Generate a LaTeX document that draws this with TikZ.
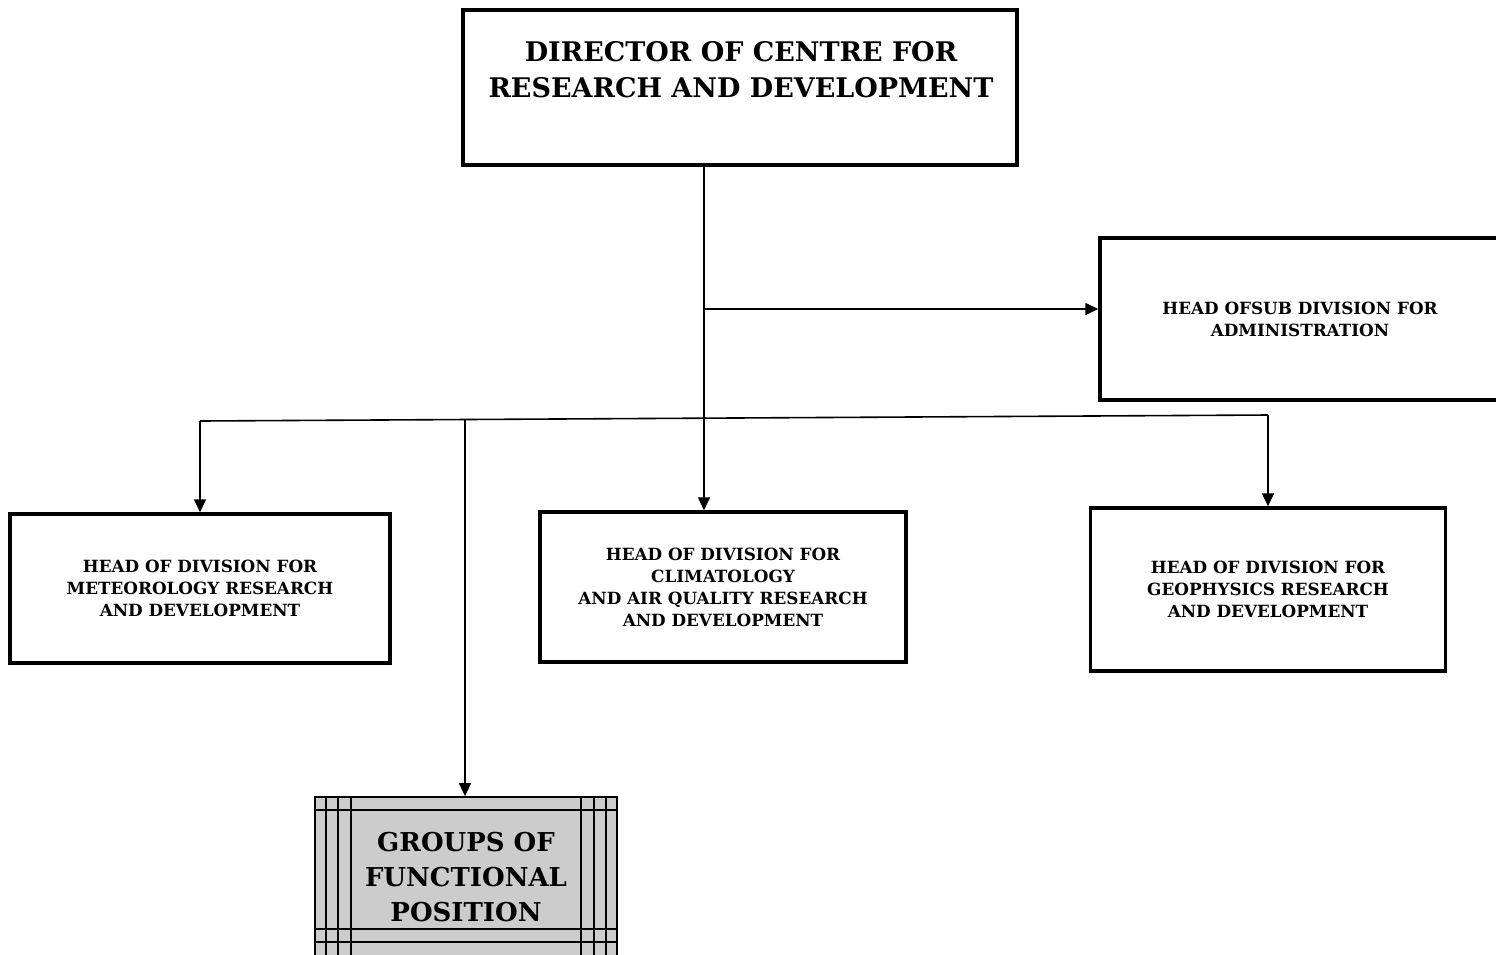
\documentclass[tikz,border=0pt]{standalone}
\usepackage{fontspec}
\setmainfont{DejaVu Serif}
\usetikzlibrary{arrows.meta,calc}
\begin{document}
\begin{tikzpicture}[x=1pt,y=-1pt,
  box/.style={draw, line width=3.5pt, align=center, inner sep=0pt,
    font=\bfseries\fontsize{16.8}{22}\selectfont},
  conn/.style={line width=1.6pt, -{Triangle[length=13pt,width=12pt]}},
  bus/.style={line width=1.6pt},
  grid/.style={line width=1.8pt}]
\useasboundingbox (0,0) rectangle (1496,954);
% boxes
\node[box, minimum width=554pt, minimum height=155pt] (dir) at (740,87.5) {};
\node[align=center, font=\bfseries\fontsize{27}{36}\selectfont] (dirtxt) at (741,70)
  {DIRECTOR OF CENTRE FOR\\RESEARCH AND DEVELOPMENT};
\node[box, minimum width=400pt, minimum height=162pt] (adm) at (1300,319)
  {HEAD OFSUB DIVISION FOR\\ADMINISTRATION};
\node[box, minimum width=380pt, minimum height=149pt] (met) at (200,588.5)
  {HEAD OF DIVISION FOR\\METEOROLOGY RESEARCH\\AND DEVELOPMENT};
\node[box, minimum width=366pt, minimum height=150pt] (mid) at (723,587)
  {HEAD OF DIVISION FOR\\CLIMATOLOGY\\AND AIR QUALITY RESEARCH\\AND DEVELOPMENT};
\node[box, minimum width=355pt, minimum height=163pt] (geo) at (1268,589.5)
  {HEAD OF DIVISION FOR\\GEOPHYSICS RESEARCH\\AND DEVELOPMENT};
\node[draw, grid, fill=black!20, align=center, inner sep=0pt,
  minimum width=302pt, minimum height=160pt,
  font=\bfseries\fontsize{26}{35}\selectfont] (grp) at (466,877)
  {GROUPS OF\\FUNCTIONAL\\POSITION};
% grid lines of the groups box
\foreach \dx in {12,24,37} {
  \draw[grid] ($(grp.north west)+(\dx,0)$) -- ($(grp.south west)+(\dx,0)$);
  \draw[grid] ($(grp.north east)+(-\dx,0)$) -- ($(grp.south east)+(-\dx,0)$);
}
\draw[grid] ($(grp.north west)+(0,14)$) -- ($(grp.north east)+(0,14)$);
\draw[grid] ($(grp.north west)+(0,133)$) -- ($(grp.north east)+(0,133)$);
\draw[grid] ($(grp.north west)+(0,146)$) -- ($(grp.north east)+(0,146)$);
% connectors
\coordinate (j1) at (704,309);
\coordinate (bl) at (200,421);
\coordinate (bg) at (465,420);
\coordinate (br) at (1268,415);
\draw[conn] ([xshift=-36pt]dir.south) -- ([xshift=-19pt]mid.north);
\draw[conn] (j1) -- (adm.west |- j1);
\draw[bus] (bl) -- (br);
\draw[conn] (bl) -- (met.north);
\draw[conn] (bg) -- (grp.north -| bg);
\draw[conn] (br) -- (geo.north);
\end{tikzpicture}
\end{document}
